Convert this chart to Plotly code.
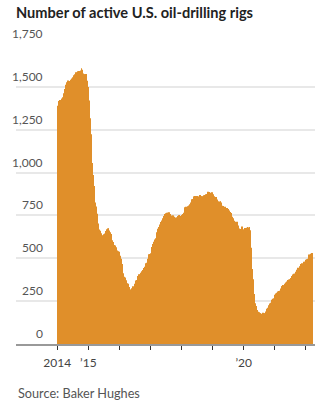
import pandas as pd
import plotly.graph_objects as go

# Weekly count of active U.S. oil-drilling rigs (Baker Hughes)
rigs_2014 = [1377, 1390, 1406, 1417, 1424, 1418, 1422, 1430, 1430, 1440, 1456, 1462, 1471,
             1488, 1513, 1525, 1526, 1533, 1537, 1531, 1527, 1534, 1536, 1542, 1549, 1551,
             1556, 1564, 1568, 1573, 1567, 1585, 1583, 1583, 1591, 1588, 1592, 1590, 1589,
             1596, 1609, 1600, 1595, 1568, 1578, 1574, 1574, 1575, 1575, 1546, 1536, 1499]
rigs_2015 = [1482, 1421, 1366, 1317, 1223, 1140, 1056, 1019, 986, 922, 866, 825, 813,
             802, 760, 734, 703, 679, 668, 660, 659, 646, 642, 635, 631, 628,
             640, 645, 638, 659, 664, 670, 672, 674, 675, 662, 652, 644, 641,
             614, 605, 595, 594, 578, 572, 574, 564, 557, 545, 524, 541, 538]
rigs_2016 = [516, 515, 510, 498, 467, 439, 413, 400, 392, 386, 387, 372,
             362, 354, 351, 343, 332, 328, 318, 316, 316, 325, 328, 337, 330,
             341, 351, 357, 371, 374, 381, 396, 406, 406, 407, 414, 416, 418, 425,
             428, 432, 443, 441, 450, 452, 471, 474, 477, 498, 510, 523, 525]
rigs_2017 = [529, 522, 551, 566, 583, 591, 597, 602, 609, 617, 631, 652, 662,
             672, 683, 688, 697, 703, 712, 720, 722, 733, 741, 747, 758, 756,
             763, 764, 766, 765, 766, 768, 763, 759, 756, 749, 744, 750, 750,
             748, 743, 736, 737, 729, 738, 738, 747, 749, 751, 752, 747, 742]
rigs_2018 = [752, 747, 747, 759, 765, 791, 798, 799, 800, 796, 800, 804, 797,
             808, 815, 820, 825, 834, 844, 846, 859, 861, 862, 863, 862, 858,
             863, 858, 861, 858, 859, 869, 869, 860, 860, 862, 860, 867, 863,
             861, 869, 873, 875, 874, 886, 888, 885, 887, 877, 873, 883, 885]
rigs_2019 = [877, 873, 852, 862, 847, 854, 857, 853, 843, 834, 833, 824, 816,
             831, 833, 825, 805, 807, 805, 802, 800, 797, 800, 789, 788, 793,
             788, 784, 779, 776, 770, 764, 754, 742, 738, 733, 719, 713, 713,
             710, 712, 713, 696, 691, 684, 674, 671, 668, 663, 667, 685, 677]
rigs_2020 = [670, 659, 673, 676, 675, 676, 678, 682, 679, 678, 683, 664, 624,
             562, 504, 438, 378, 325, 292, 258, 237, 222, 206, 199, 189, 188,
             185, 181, 180, 180, 176, 172, 176, 183, 180, 180, 179, 183, 189,
             193, 205, 211, 221, 226, 231, 236, 241, 246, 258, 264, 263, 267]
rigs_2021 = [275, 287, 289, 295, 299, 304, 306, 305, 309, 310, 318, 324,
             337, 337, 344, 343, 342, 344, 352, 356, 359, 365, 373, 365, 372,
             376, 378, 380, 385, 387, 397, 405, 410, 394, 401, 411, 421, 428,
             433, 443, 445, 444, 450, 454, 461, 467, 471, 467, 471, 475, 480, 480]
rigs_2022 = [481, 492, 495, 491, 497, 516, 522, 520, 519, 527, 524, 531]

first_week = "2014-01-03"
year_ticks = ["2014", "2015", "2016", "2017", "2018", "2019", "2020", "2021", "2022"]
year_labels = ["2014", "\u201915", "", "", "", "", "\u201920", "", ""]
y_ticks = [0, 250, 500, 750, 1000, 1250, 1500, 1750]
y_labels = ["0", "250", "500", "750", "1,000", "1,250", "1,500", "1,750"]

rigs = (rigs_2014 + rigs_2015 + rigs_2016 + rigs_2017 + rigs_2018 +
        rigs_2019 + rigs_2020 + rigs_2021 + rigs_2022)
weeks = pd.date_range(first_week, periods=len(rigs), freq="7D")

FONT = "Lato"
fig = go.Figure()
fig.add_trace(go.Bar(
    x=weeks, y=rigs,
    marker=dict(color="#E08F2A", line=dict(width=0)),
    hoverinfo="skip",
))

fig.update_layout(
    width=326, height=405,
    margin=dict(l=16, r=11, t=44, b=61),
    paper_bgcolor="white", plot_bgcolor="white",
    bargap=0.12,
    showlegend=False,
    font=dict(family=FONT, size=12, color="#555"),
    title=dict(
        text="<b>Number of active U.S. oil-drilling rigs</b>",
        font=dict(family=FONT, size=14.6, color="#222"),
        x=16 / 326, xanchor="left", xref="container",
        y=1 - 13 / 405, yanchor="middle", yref="container",
    ),
)

fig.update_xaxes(
    type="date",
    range=["2012-09-03", "2022-04-17"],
    tickvals=[pd.Timestamp(y + "-01-01") for y in year_ticks],
    ticktext=year_labels,
    ticks="outside", ticklen=4, tickwidth=1, tickcolor="#333",
    showline=True, linecolor="#999", linewidth=2,
    showgrid=False, zeroline=False,
    tickfont=dict(family=FONT, size=12, color="#444"),
    ticklabelstandoff=3,
)
fig.update_yaxes(
    range=[0, 1750],
    tickvals=y_ticks,
    showticklabels=False,
    showgrid=True, gridcolor="#e8e8e8", gridwidth=1.5,
    zeroline=False,
)

for v, t in zip(y_ticks, y_labels):
    fig.add_annotation(
        x=(45 - 16) / 299, xref="paper", xanchor="right",
        y=v, yref="y", yanchor="bottom", yshift=1,
        text=t, showarrow=False,
        font=dict(family=FONT, size=12, color="#555"),
    )

fig.add_annotation(
    x=0, xref="paper", xanchor="left",
    y=(344 - 393) / 300, yref="paper", yanchor="middle",
    text="Source: Baker Hughes", showarrow=False,
    font=dict(family=FONT, size=12.7, color="#555"),
)

fig.write_html("out.html")
